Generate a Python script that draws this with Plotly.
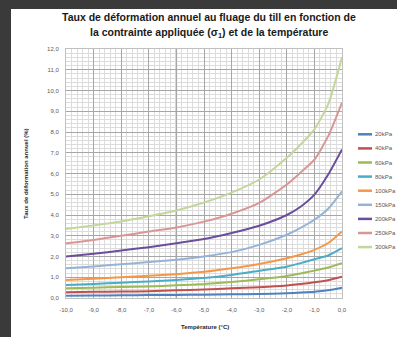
import plotly.graph_objects as go

# Temperatures (°C)
temperature = [-10, -9, -8, -7, -6, -5, -4, -3, -2, -1.5, -1, -0.5, 0]

# Annual creep strain rate (%) per applied stress
s20 = [0.11, 0.12, 0.13, 0.14, 0.15, 0.16, 0.18, 0.19, 0.23, 0.26, 0.30, 0.37, 0.50]
s40 = [0.28, 0.30, 0.31, 0.33, 0.37, 0.41, 0.47, 0.52, 0.60, 0.67, 0.76, 0.86, 1.03]
s60 = [0.47, 0.50, 0.53, 0.56, 0.61, 0.67, 0.77, 0.90, 1.06, 1.18, 1.32, 1.47, 1.68]
s80 = [0.63, 0.68, 0.74, 0.80, 0.87, 0.96, 1.11, 1.31, 1.51, 1.68, 1.87, 2.05, 2.40]
s100 = [0.87, 0.93, 1.00, 1.07, 1.15, 1.26, 1.43, 1.64, 1.92, 2.10, 2.32, 2.65, 3.21]
s150 = [1.43, 1.52, 1.63, 1.73, 1.84, 2.00, 2.21, 2.56, 3.05, 3.38, 3.77, 4.30, 5.14]
s200 = [2.00, 2.13, 2.29, 2.45, 2.64, 2.84, 3.13, 3.48, 4.00, 4.40, 4.98, 5.95, 7.16]
s250 = [2.64, 2.80, 3.00, 3.20, 3.40, 3.68, 4.06, 4.58, 5.47, 6.05, 6.67, 7.80, 9.42]
s300 = [3.32, 3.50, 3.69, 3.94, 4.22, 4.60, 5.08, 5.71, 6.76, 7.40, 8.13, 9.34, 11.60]

series_names = ["20kPa", "40kPa", "60kPa", "80kPa", "100kPa", "150kPa", "200kPa", "250kPa", "300kPa"]
series_values = [s20, s40, s60, s80, s100, s150, s200, s250, s300]
series_colors = ["#4F81BD", "#C0504D", "#9BBB59", "#4BACC6", "#F79646",
                 "#95B3D7", "#6B4E9B", "#D99694", "#C3D69B"]

y_ticks = [0, 1, 2, 3, 4, 5, 6, 7, 8, 9, 10, 11, 12]
y_tick_text = ["0,0", "1,0", "2,0", "3,0", "4,0", "5,0", "6,0", "7,0", "8,0", "9,0", "10,0", "11,0", "12,0"]
x_ticks = [-10, -9, -8, -7, -6, -5, -4, -3, -2, -1, 0]
x_tick_text = ["-10,0", "-9,0", "-8,0", "-7,0", "-6,0", "-5,0", "-4,0", "-3,0", "-2,0", "-1,0", "0,0"]

FONT = "Liberation Sans"
W, H = 397, 337
ML, MR, MT, MB = 66, 55, 49, 39
PW, PH = W - ML - MR, H - MT - MB

fig = go.Figure()
for name, vals, col in zip(series_names, series_values, series_colors):
    fig.add_trace(go.Scatter(x=temperature, y=vals, mode="lines", name=name,
                             line=dict(color=col, width=2, shape="spline", smoothing=0.6),
                             showlegend=False))

def px_to_paper_x(px):
    return (px - ML) / PW

def px_to_paper_y(py):
    return (H - MB - py) / PH

shapes = []
annotations = []

# manual legend
for i, (name, col) in enumerate(zip(series_names, series_colors)):
    py = 134.3 + 14.1 * i
    yp = px_to_paper_y(py)
    shapes.append(dict(type="line", xref="paper", yref="paper",
                       x0=px_to_paper_x(358), x1=px_to_paper_x(372), y0=yp, y1=yp,
                       line=dict(color=col, width=2.5)))
    annotations.append(dict(xref="paper", yref="paper", x=px_to_paper_x(373), y=yp,
                            text=name, showarrow=False, xanchor="left", yanchor="middle",
                            font=dict(family=FONT, size=6, color="#595959")))

# emphasised gridline at -6
shapes.append(dict(type="line", xref="x", yref="paper", x0=-6, x1=-6, y0=0, y1=1,
                   line=dict(color="#505050", width=1.3), layer="below"))

# dark frame at top/left of the screenshot
shapes.append(dict(type="rect", xref="paper", yref="paper",
                   x0=px_to_paper_x(0), x1=px_to_paper_x(11), y0=px_to_paper_y(H), y1=px_to_paper_y(0),
                   fillcolor="#3a3a3a", line=dict(width=0)))
shapes.append(dict(type="rect", xref="paper", yref="paper",
                   x0=px_to_paper_x(0), x1=px_to_paper_x(W), y0=px_to_paper_y(9), y1=px_to_paper_y(0),
                   fillcolor="#3a3a3a", line=dict(width=0)))

# title
annotations.append(dict(xref="paper", yref="paper", x=px_to_paper_x(209), y=px_to_paper_y(17),
                        text="<b>Taux de déformation annuel au fluage du till en fonction de</b>",
                        showarrow=False, xanchor="center", yanchor="middle",
                        font=dict(family=FONT, size=10.5, color="#1a1a1a")))
annotations.append(dict(xref="paper", yref="paper", x=px_to_paper_x(209), y=px_to_paper_y(33),
                        text="<b>la contrainte appliquée (σ<sub>1</sub>) et de la température</b>",
                        showarrow=False, xanchor="center", yanchor="middle",
                        font=dict(family=FONT, size=10.5, color="#1a1a1a")))
# axis titles
annotations.append(dict(xref="paper", yref="paper", x=px_to_paper_x(205), y=px_to_paper_y(327),
                        text="<b>Température (°C)</b>", showarrow=False,
                        xanchor="center", yanchor="middle",
                        font=dict(family=FONT, size=6, color="#262626")))
annotations.append(dict(xref="paper", yref="paper", x=px_to_paper_x(26), y=px_to_paper_y(174),
                        text="<b>Taux de déformation annuel (%)</b>", showarrow=False, textangle=-90,
                        xanchor="center", yanchor="middle",
                        font=dict(family=FONT, size=6, color="#262626")))

fig.update_layout(
    width=W, height=H,
    margin=dict(l=ML, r=MR, t=MT, b=MB),
    paper_bgcolor="white", plot_bgcolor="white",
    showlegend=False,
    shapes=shapes, annotations=annotations,
    font=dict(family=FONT),
)
fig.update_xaxes(range=[-10, 0], tickvals=x_ticks, ticktext=x_tick_text,
                 tickfont=dict(family=FONT, size=6, color="#595959"),
                 showgrid=True, gridcolor="#a6a6a6", gridwidth=1,
                 minor=dict(dtick=0.2, showgrid=True, gridcolor="#dcdcdc", gridwidth=1),
                 zeroline=False, showline=True, linecolor="#bfbfbf", mirror=True,
                 ticks="", ticklabelstandoff=6)
fig.update_yaxes(range=[0, 12], tickvals=y_ticks, ticktext=y_tick_text,
                 tickfont=dict(family=FONT, size=6, color="#595959"),
                 showgrid=True, gridcolor="#a6a6a6", gridwidth=1,
                 minor=dict(dtick=0.2, showgrid=True, gridcolor="#dcdcdc", gridwidth=1),
                 zeroline=False, showline=True, linecolor="#bfbfbf", mirror=True,
                 ticks="", ticklabelstandoff=5)

fig.write_html("out.html", config={"displayModeBar": False},
               post_script="document.body.style.margin='0px';document.body.style.padding='0px';")
